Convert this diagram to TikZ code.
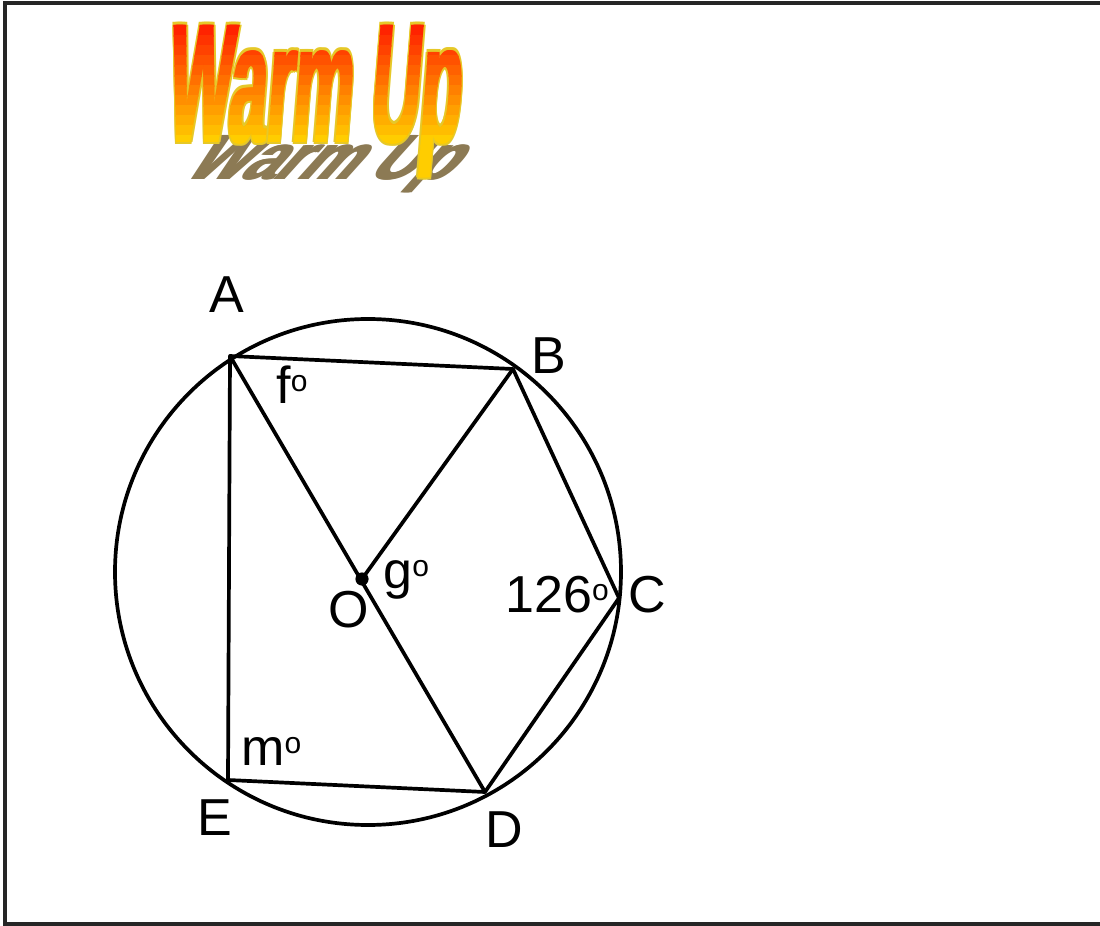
\documentclass[tikz,border=0pt]{standalone}
\usepackage{fontspec}
\setmainfont{Liberation Sans}
\usepackage{graphicx}
\definecolor{wtop}{RGB}{255,20,0}
\definecolor{wbot}{RGB}{255,205,0}
\definecolor{wedge}{RGB}{230,200,40}
\definecolor{shadowc}{RGB}{140,122,84}
\newcommand{\dg}{\raisebox{6pt}{\fontsize{15}{15}\selectfont o}}
\newcommand{\wtext}{\fontsize{40}{40}\selectfont\bfseries Warm Up}
\tikzset{
  lbl/.style={anchor=base west, inner sep=0pt, font=\fontsize{26}{26}\selectfont},
  edge/.style={line width=1.85pt, line join=round, line cap=round},
  frame/.style={line width=1.6pt, draw=black!85},
  wtitle/.style={anchor=base west, inner sep=0pt, xslant=0.08, transform shape}
}
\begin{document}
\begin{tikzpicture}[x=0.5pt,y=-0.5pt]
\useasboundingbox (0,0) rectangle (1100,926);
\draw[frame] (1100,3) -- (5,3) -- (5,924) -- (1100,924);
% title shadow
\foreach \dx in {-1.5,0,1.5} {
  \node[anchor=base west, inner sep=0pt, text=shadowc, xslant=0.9, transform shape] at ({182+\dx},179) {\scalebox{0.76}[0.8]{\wtext}};
}
% title outline
\foreach \dx/\dy in {-3/0,3/0,0/-2.5,0/2.5,-2.5/-2,2.5/2,-2.5/2,2.5/-2} {
  \node[wtitle, text=wedge] at ({166+\dx},{142+\dy}) {\scalebox{0.84}[2.13]{\wtext}};
}
% title with vertical gradient (banded)
\foreach \i in {0,...,16} {
  \pgfmathsetmacro\pc{min(100,\i*100/12)}
  \begin{scope}
    \clip (140,{15+\i*10}) rectangle (520,{26+\i*10});
    \foreach \dx in {-1.5,0,1.5} {
      \node[wtitle, text=wbot!\pc!wtop] at ({166+\dx},142) {\scalebox{0.84}[2.13]{\wtext}};
    }
  \end{scope}
}
% geometry
\coordinate (A) at (230,356);
\coordinate (B) at (513,369);
\coordinate (C) at (619,598);
\coordinate (D) at (485,792);
\coordinate (E) at (228,780);
\coordinate (O) at (362,579);
\coordinate (Z) at (368,572);
\draw[edge] (Z) circle[radius=126.5pt];
\draw[edge] (A) -- (B) -- (C) -- (D) -- (E) -- cycle;
\draw[edge] (A) -- (D);
\draw[edge] (O) -- (B);
\fill (O) circle[radius=3.3pt];
% labels
\node[lbl] (lA) at (209,312) {A};
\node[lbl] (lB) at (531,373) {B};
\node[lbl] (lC) at (628,612) {C};
\node[lbl] (lD) at (485,847) {D};
\node[lbl] (lE) at (197,835) {E};
\node[lbl] (lO) at (328,627) {O};
\node[lbl] (lf) at (276,403) {f\dg};
\node[lbl] (lg) at (383,588) {g\dg};
\node[lbl] (l126) at (505,612) {126\dg};
\node[lbl] (lm) at (241,765) {m\dg};
\end{tikzpicture}
\end{document}
